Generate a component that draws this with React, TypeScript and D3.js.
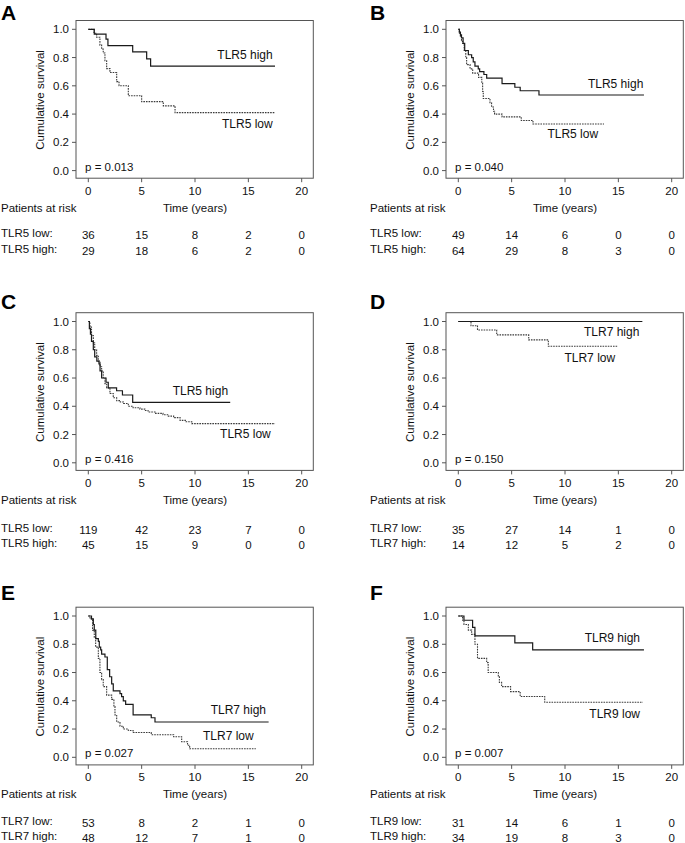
import React from 'react';
import * as d3 from 'd3';

const FONT = '"Liberation Sans", Arial, Helvetica, sans-serif';

const xTicks = [0, 5, 10, 15, 20];
const yTicks = [0, 0.2, 0.4, 0.6, 0.8, 1.0];
const riskTimes = [0, 5, 10, 15, 20];

// Panel A
const aHighTime = [0, 0.56, 1.66, 1.84, 4.16, 5.47, 5.84];
const aHighSurv = [1, 0.966, 0.931, 0.885, 0.84, 0.79, 0.74];
const aHighEnd = 17.5;
const aLowTime = [0, 0.53, 0.78, 1.09, 1.25, 1.4, 1.56, 1.72, 2.03, 2.66, 2.88, 3.75, 5.0, 7.03, 8.13];
const aLowSurv = [1, 0.972, 0.944, 0.888, 0.86, 0.832, 0.777, 0.722, 0.694, 0.63, 0.6, 0.53, 0.488, 0.458, 0.41];
const aLowEnd = 17.5;
const aRiskLow = [36, 15, 8, 2, 0];
const aRiskHigh = [29, 18, 6, 2, 0];

// Panel B
const bHighTime = [0, 0.1, 0.2, 0.3, 0.45, 0.6, 0.94, 1.25, 1.4, 1.56, 1.87, 2.0, 2.4, 2.66, 4.1, 5.3, 5.8, 7.56];
const bHighSurv = [1, 0.98, 0.96, 0.94, 0.9, 0.85, 0.82, 0.8, 0.77, 0.74, 0.72, 0.7, 0.68, 0.655, 0.615, 0.59, 0.565, 0.535];
const bHighEnd = 17.4;
const bLowTime = [0, 0.1, 0.2, 0.3, 0.4, 0.55, 0.7, 0.78, 1.1, 1.35, 1.9, 2.2, 2.28, 2.34, 2.97, 3.12, 3.3, 3.4, 4.1, 5.9, 7.0];
const bLowSurv = [1, 0.97, 0.95, 0.92, 0.9, 0.85, 0.8, 0.75, 0.72, 0.69, 0.66, 0.62, 0.56, 0.51, 0.48, 0.45, 0.42, 0.4, 0.38, 0.355, 0.33];
const bLowEnd = 13.66;
const bRiskLow = [49, 14, 6, 0, 0];
const bRiskHigh = [64, 29, 8, 3, 0];

// Panel C
const cHighTime = [0, 0.1, 0.2, 0.3, 0.47, 0.6, 0.8, 1.0, 1.1, 1.25, 1.66, 1.87, 2.65, 3.2, 4.16];
const cHighSurv = [1, 0.95, 0.91, 0.86, 0.8, 0.75, 0.72, 0.7, 0.65, 0.6, 0.57, 0.53, 0.51, 0.48, 0.428];
const cHighEnd = 13.3;
const cLowTime = [0, 0.15, 0.3, 0.47, 0.6, 0.78, 0.94, 1.1, 1.25, 1.4, 1.56, 1.72, 2.03, 2.34, 2.66, 3.0, 3.3, 3.75, 4.2, 4.84, 5.3, 5.6, 6.25, 7.0, 7.5, 8.0, 8.6, 9.1, 9.7];
const cLowSurv = [1, 0.96, 0.9, 0.85, 0.8, 0.76, 0.72, 0.68, 0.65, 0.6, 0.56, 0.53, 0.49, 0.46, 0.44, 0.43, 0.42, 0.4, 0.39, 0.38, 0.37, 0.36, 0.35, 0.34, 0.33, 0.32, 0.3, 0.29, 0.277];
const cLowEnd = 17.5;
const cRiskLow = [119, 42, 23, 7, 0];
const cRiskHigh = [45, 15, 9, 0, 0];

// Panel D
const dHighTime = [0];
const dHighSurv = [1];
const dHighEnd = 17.25;
const dLowTime = [0, 1.19, 1.8, 3.6, 6.6, 8.44];
const dLowSurv = [1, 0.97, 0.94, 0.905, 0.87, 0.825];
const dLowEnd = 14.9;
const dRiskLow = [35, 27, 14, 1, 0];
const dRiskHigh = [14, 12, 5, 2, 0];

// Panel E
const eHighTime = [0, 0.3, 0.47, 0.56, 0.7, 0.94, 1.03, 1.16, 1.25, 1.56, 1.78, 2.0, 2.19, 2.34, 2.97, 3.12, 3.28, 3.5, 4.2, 5.9, 6.25];
const eHighSurv = [1, 0.98, 0.94, 0.9, 0.84, 0.82, 0.78, 0.76, 0.73, 0.71, 0.62, 0.57, 0.52, 0.47, 0.45, 0.43, 0.4, 0.375, 0.3, 0.28, 0.25];
const eHighEnd = 16.9;
const eLowTime = [0, 0.16, 0.4, 0.56, 0.69, 0.94, 1.09, 1.25, 1.4, 1.72, 2.19, 2.4, 2.5, 2.66, 2.97, 3.28, 3.75, 4.2, 5.9, 8.0, 8.75, 9.3, 9.5];
const eLowSurv = [1, 0.98, 0.9, 0.85, 0.78, 0.7, 0.6, 0.55, 0.5, 0.44, 0.41, 0.36, 0.3, 0.25, 0.22, 0.2, 0.19, 0.175, 0.16, 0.145, 0.11, 0.085, 0.06];
const eLowEnd = 15.7;
const eRiskLow = [53, 8, 2, 1, 0];
const eRiskHigh = [48, 12, 7, 1, 0];

// Panel F
const fHighTime = [0, 0.53, 1.34, 1.56, 5.3, 6.97];
const fHighSurv = [1, 0.97, 0.92, 0.86, 0.81, 0.76];
const fHighEnd = 17.4;
const fLowTime = [0, 0.4, 0.53, 0.94, 1.25, 1.56, 1.8, 2.66, 2.8, 3.75, 3.85, 4.06, 4.9, 5.8, 8.1];
const fLowSurv = [1, 0.97, 0.94, 0.9, 0.87, 0.8, 0.7, 0.67, 0.6, 0.57, 0.53, 0.5, 0.465, 0.43, 0.39];
const fLowEnd = 17.3;
const fRiskLow = [31, 14, 6, 1, 0];
const fRiskHigh = [34, 19, 8, 3, 0];

const panelLetters = ['A', 'B', 'C', 'D', 'E', 'F'];
const groupNames = ['TLR5', 'TLR5', 'TLR5', 'TLR7', 'TLR7', 'TLR9'];
const pValues = ['0.013', '0.040', '0.416', '0.150', '0.027', '0.007'];

// label anchors (end x in years, baseline in survival units)
const highLabelPos = [[17.28, 0.788], [17.34, 0.583], [13.1, 0.48], [16.97, 0.899], [16.66, 0.307], [17.03, 0.818]];
const lowLabelPos = [[17.28, 0.304], [13.1, 0.233], [17.1, 0.173], [14.7, 0.71], [15.5, 0.12], [17.03, 0.278]];

const panels = [
  { high: [aHighTime, aHighSurv, aHighEnd], low: [aLowTime, aLowSurv, aLowEnd], rl: aRiskLow, rh: aRiskHigh },
  { high: [bHighTime, bHighSurv, bHighEnd], low: [bLowTime, bLowSurv, bLowEnd], rl: bRiskLow, rh: bRiskHigh },
  { high: [cHighTime, cHighSurv, cHighEnd], low: [cLowTime, cLowSurv, cLowEnd], rl: cRiskLow, rh: cRiskHigh },
  { high: [dHighTime, dHighSurv, dHighEnd], low: [dLowTime, dLowSurv, dLowEnd], rl: dRiskLow, rh: dRiskHigh },
  { high: [eHighTime, eHighSurv, eHighEnd], low: [eLowTime, eLowSurv, eLowEnd], rl: eRiskLow, rh: eRiskHigh },
  { high: [fHighTime, fHighSurv, fHighEnd], low: [fLowTime, fLowSurv, fLowEnd], rl: fRiskLow, rh: fRiskHigh },
];

const COL_X0 = [88.3, 458.3];
const COL_LEFT = [1, 370];
const ROW_Y1 = [29.3, 321.5, 616];
const ROW_LETTER_Y = [20, 309, 600];
const ROW_LOW_OFF = [66, 69, 68];
const ROW_HIGH_OFF = [82, 84.5, 83];
const X_SPAN = 213.4;
const Y_SPAN = 141.3;

const TXT = '#111';

function Panel({ idx }: { idx: number }) {
  const p = panels[idx];
  const col = idx % 2;
  const row = Math.floor(idx / 2);
  const x0 = COL_X0[col];
  const y1 = ROW_Y1[row];
  const x = d3.scaleLinear().domain([0, 20]).range([x0, x0 + X_SPAN]);
  const y = d3.scaleLinear().domain([0, 1]).range([y1 + Y_SPAN, y1]);
  const line = d3
    .line<[number, number]>()
    .x((d) => x(d[0]))
    .y((d) => y(d[1]))
    .curve(d3.curveStepAfter);
  const pts = (c: any[]): [number, number][] => {
    const [t, s, end] = c;
    const arr: [number, number][] = t.map((ti: number, i: number) => [ti, s[i]]);
    arr.push([end, s[s.length - 1]]);
    return arr;
  };
  const fl = x(0) - 12.3;
  const fr = x(20) + 11.6;
  const ft = y(1) - 8.8;
  const fb = y(0) + 7.6;
  const left = COL_LEFT[col];
  const y0 = y(0);
  const name = groupNames[idx];
  const fs = 11.5;
  return (
    <g>
      <text x={left} y={ROW_LETTER_Y[row]} fontSize={21} fontWeight="bold" fill="#000">
        {panelLetters[idx]}
      </text>
      <rect x={fl} y={ft} width={fr - fl} height={fb - ft} fill="none" stroke="#555" strokeWidth={1} />
      {yTicks.map((t) => (
        <g key={'y' + t}>
          <line x1={fl - 4} x2={fl} y1={y(t)} y2={y(t)} stroke="#555" />
          <text x={fl - 7} y={y(t)} dy="0.35em" textAnchor="end" fontSize={fs} fill={TXT}>
            {t.toFixed(1)}
          </text>
        </g>
      ))}
      {xTicks.map((t) => (
        <g key={'x' + t}>
          <line x1={x(t)} x2={x(t)} y1={fb} y2={fb + 4} stroke="#555" />
          <text x={x(t)} y={y0 + 24} textAnchor="middle" fontSize={fs} fill={TXT}>
            {t}
          </text>
        </g>
      ))}
      <text
        transform={`translate(${x0 - 44},${(y(0) + y(1)) / 2}) rotate(-90)`}
        textAnchor="middle"
        fontSize={fs}
        fill={TXT}
      >
        Cumulative survival
      </text>
      <path d={line(pts(p.low)) || ''} fill="none" stroke="#3a3a3a" strokeWidth={1.1} strokeDasharray="1.6 1" />
      <path d={line(pts(p.high)) || ''} fill="none" stroke="#1a1a1a" strokeWidth={1.2} />
      <text x={x(highLabelPos[idx][0])} y={y(highLabelPos[idx][1])} textAnchor="end" fontSize={12} fill={TXT}>
        {name} high
      </text>
      <text x={x(lowLabelPos[idx][0])} y={y(lowLabelPos[idx][1])} textAnchor="end" fontSize={12} fill={TXT}>
        {name} low
      </text>
      <text x={x(-0.3)} y={y0} fontSize={fs} fill={TXT}>
        p = {pValues[idx]}
      </text>
      <text x={left} y={y0 + 41} fontSize={fs} fill={TXT}>
        Patients at risk
      </text>
      <text x={x(10)} y={y0 + 41} textAnchor="middle" fontSize={fs} fill={TXT}>
        Time (years)
      </text>
      <text x={left} y={y0 + ROW_LOW_OFF[row]} fontSize={fs} fill={TXT}>
        {name} low:
      </text>
      <text x={left} y={y0 + ROW_HIGH_OFF[row]} fontSize={fs} fill={TXT}>
        {name} high:
      </text>
      {riskTimes.map((t, i) => (
        <g key={'r' + t}>
          <text x={x(t)} y={y0 + ROW_LOW_OFF[row] + 2} textAnchor="middle" fontSize={fs} fill={TXT}>
            {p.rl[i]}
          </text>
          <text x={x(t)} y={y0 + ROW_HIGH_OFF[row] + 2} textAnchor="middle" fontSize={fs} fill={TXT}>
            {p.rh[i]}
          </text>
        </g>
      ))}
    </g>
  );
}

export default function App() {
  return (
    <div style={{ position: 'absolute', left: 0, top: 0, width: 685, height: 843, background: '#fff' }}>
      <svg width={685} height={843} style={{ display: 'block', fontFamily: FONT }}>
        <rect width={685} height={843} fill="#fff" />
        {panels.map((_, i) => (
          <Panel key={i} idx={i} />
        ))}
      </svg>
    </div>
  );
}
